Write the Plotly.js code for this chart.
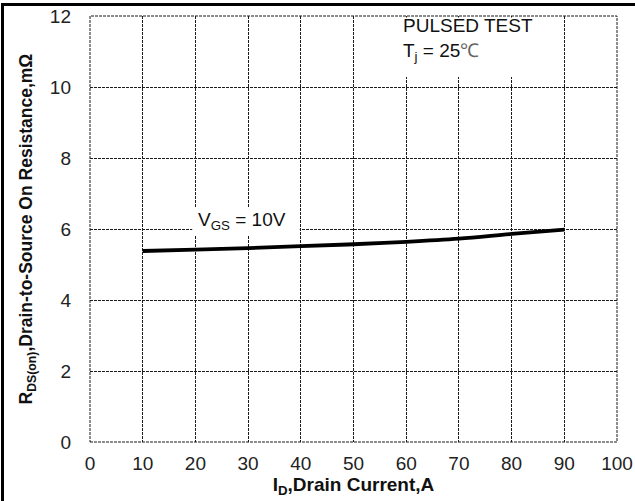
<!DOCTYPE html>
<html>
<head>
<meta charset="utf-8">
<script src="https://cdn.plot.ly/plotly-3.0.1.min.js"></script>
<style>
  html, body { margin: 0; padding: 0; background: #fff; }
  #wrap { position: relative; width: 635px; height: 501px; }
  #chart { width: 635px; height: 501px; }
  #frame { position: absolute; left: 1px; top: 3px; width: 640px; height: 520px;
           border-left: 3px solid #000; border-top: 3px solid #000; pointer-events: none; }
</style>
</head>
<body>
<div id="wrap">
  <div id="chart"></div>
  <div id="frame"></div>
</div>
<script>
// Data
const drainCurrent = [10, 20, 30, 40, 50, 60, 70, 80, 90];
const rdsOn = [5.38, 5.42, 5.46, 5.52, 5.57, 5.64, 5.73, 5.86, 5.98];
const xTicks = [0, 10, 20, 30, 40, 50, 60, 70, 80, 90, 100];
const yTicks = [0, 2, 4, 6, 8, 10, 12];
const curveLabel = 'V<sub>GS</sub> = 10V';
const noteText = 'PULSED TEST<br>T<sub>j</sub> = 25<span style="color:#666">℃</span>';

const FONT = 'Liberation Sans, Arial, Helvetica, sans-serif';
const GRID = '#1a1a1a';
const DASH = '3px,1px';

const trace = {
  x: drainCurrent,
  y: rdsOn,
  type: 'scatter',
  mode: 'lines',
  line: { color: '#000', width: 3.8, shape: 'spline', smoothing: 1 },
  hoverinfo: 'skip',
  showlegend: false
};

const layout = {
  width: 635,
  height: 501,
  margin: { l: 90, r: 18, t: 16, b: 59 },
  paper_bgcolor: '#fff',
  plot_bgcolor: '#fff',
  font: { family: FONT, color: '#222', size: 19 },
  xaxis: {
    range: [0, 100],
    tickvals: xTicks,
    ticktext: xTicks.map(String),
    showgrid: true, gridcolor: GRID, gridwidth: 1, griddash: DASH,
    zeroline: false, showline: false, ticks: '',
    ticklabelstandoff: 8,
    tickfont: { family: FONT, size: 19, color: '#222' },
    title: { text: '<b>I<sub>D</sub>,Drain Current,A</b>', font: { family: FONT, size: 19, color: '#111' }, standoff: 4 },
    fixedrange: true
  },
  yaxis: {
    range: [0, 12],
    tickvals: yTicks,
    ticktext: yTicks.map(String),
    showgrid: true, gridcolor: GRID, gridwidth: 1, griddash: DASH,
    zeroline: false, showline: false, ticks: '',
    ticklabelstandoff: 18,
    tickfont: { family: FONT, size: 19, color: '#222' },
    title: { text: '<b>R<sub>DS(on)</sub>,Drain-to-Source On Resistance,mΩ</b>', font: { family: FONT, size: 17.5, color: '#111' }, standoff: 12 },
    fixedrange: true
  },
  shapes: [
    { type: 'rect', xref: 'x', yref: 'y', x0: 19.4, x1: 39.8, y0: 5.83, y1: 6.59,
      fillcolor: '#fff', line: { width: 0 }, layer: 'above' },
    { type: 'rect', xref: 'x', yref: 'y', x0: 51.2, x1: 88.4, y0: 10.28, y1: 11.96,
      fillcolor: '#fff', line: { width: 0 }, layer: 'above' },
    { type: 'rect', xref: 'paper', yref: 'paper', x0: 0, x1: 1, y0: 0, y1: 1,
      line: { color: GRID, width: 1, dash: DASH }, fillcolor: 'rgba(0,0,0,0)', layer: 'above' }
  ],
  annotations: [
    { x: 28.8, y: 6.22, xref: 'x', yref: 'y', text: curveLabel, showarrow: false,
      xanchor: 'center', yanchor: 'middle', font: { family: FONT, size: 19, color: '#111' } },
    { x: 59.0, y: 11.33, xref: 'x', yref: 'y', text: noteText, showarrow: false,
      align: 'left', xanchor: 'left', yanchor: 'middle', font: { family: FONT, size: 19, color: '#111' } }
  ]
};

Plotly.newPlot('chart', [trace], layout, { staticPlot: true, displayModeBar: false });
</script>
</body>
</html>
